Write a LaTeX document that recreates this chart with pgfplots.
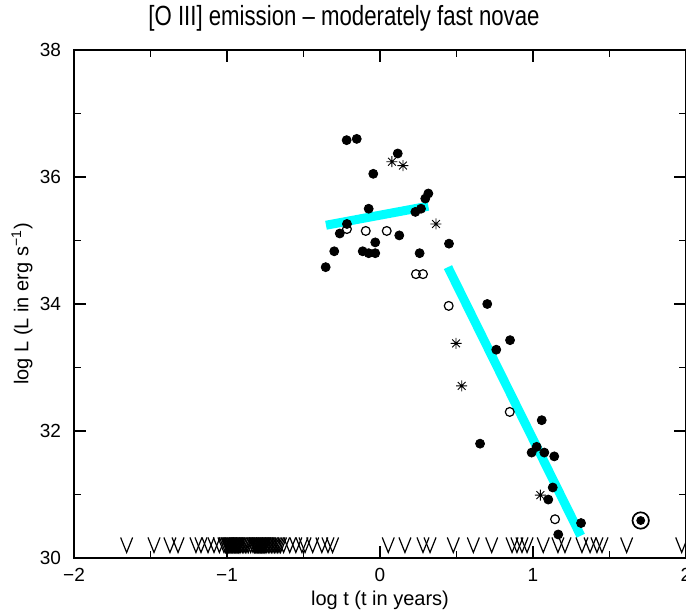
\documentclass[border=0pt]{standalone}
\usepackage{pgfplots}
\pgfplotsset{compat=1.18}
\usepackage{fontspec}
\setmainfont{Liberation Sans}
\definecolor{aqua}{RGB}{0,255,255}

\pgfdeclareplotmark{Vmark}{%
  \pgfpathmoveto{\pgfqpoint{-3pt}{3.75pt}}%
  \pgfpathlineto{\pgfqpoint{0pt}{-3.75pt}}%
  \pgfpathlineto{\pgfqpoint{3pt}{3.75pt}}%
  \pgfusepathqstroke}
\pgfdeclareplotmark{star8}{%
  \pgfpathmoveto{\pgfqpoint{-2.75pt}{0pt}}\pgfpathlineto{\pgfqpoint{2.75pt}{0pt}}%
  \pgfpathmoveto{\pgfqpoint{0pt}{-2.75pt}}\pgfpathlineto{\pgfqpoint{0pt}{2.75pt}}%
  \pgfpathmoveto{\pgfqpoint{-1.95pt}{-1.95pt}}\pgfpathlineto{\pgfqpoint{1.95pt}{1.95pt}}%
  \pgfpathmoveto{\pgfqpoint{-1.95pt}{1.95pt}}\pgfpathlineto{\pgfqpoint{1.95pt}{-1.95pt}}%
  \pgfusepathqstroke
  \pgfpathcircle{\pgfpointorigin}{0.6pt}\pgfusepathqfill}

\pgfplotstableread{
x y
-0.218 36.58
-0.152 36.60
0.116 36.37
-0.044 36.05
0.316 35.74
0.296 35.66
-0.074 35.50
0.268 35.50
0.231 35.45
-0.216 35.26
-0.263 35.11
0.126 35.08
-0.031 34.97
-0.299 34.83
-0.113 34.83
-0.074 34.80
-0.031 34.80
0.451 34.95
0.259 34.80
-0.355 34.58
0.701 34.00
0.850 33.43
0.760 33.28
1.057 32.17
0.654 31.80
1.024 31.75
0.991 31.66
1.074 31.66
1.139 31.60
1.129 31.11
1.100 30.92
1.314 30.55
1.165 30.37
}\filled

\pgfplotstableread{
x y
-0.216 35.18
-0.093 35.15
0.044 35.15
0.235 34.47
0.281 34.47
0.449 33.97
0.848 32.30
1.144 30.61
}\opened

\pgfplotstableread{
x y
0.078 36.24
0.150 36.18
0.366 35.26
0.497 33.38
0.534 32.71
1.048 30.99
}\stars

\pgfplotstableread{
x y
-1.656 30.205
-1.477 30.205
-1.373 30.205
-1.320 30.205
-1.203 30.205
-1.170 30.205
-1.124 30.205
-1.085 30.205
-1.050 30.205
-1.020 30.205
-1.010 30.205
-1.000 30.205
-0.995 30.205
-0.990 30.205
-0.985 30.205
-0.980 30.205
-0.975 30.205
-0.970 30.205
-0.965 30.205
-0.960 30.205
-0.955 30.205
-0.950 30.205
-0.945 30.205
-0.940 30.205
-0.935 30.205
-0.930 30.205
-0.925 30.205
-0.920 30.205
-0.910 30.205
-0.900 30.205
-0.890 30.205
-0.880 30.205
-0.870 30.205
-0.860 30.205
-0.845 30.205
-0.830 30.205
-0.820 30.205
-0.815 30.205
-0.810 30.205
-0.805 30.205
-0.800 30.205
-0.795 30.205
-0.790 30.205
-0.785 30.205
-0.780 30.205
-0.775 30.205
-0.770 30.205
-0.765 30.205
-0.760 30.205
-0.755 30.205
-0.750 30.205
-0.740 30.205
-0.730 30.205
-0.720 30.205
-0.710 30.205
-0.700 30.205
-0.690 30.205
-0.680 30.205
-0.670 30.205
-0.660 30.205
-0.650 30.205
-0.630 30.205
-0.590 30.205
-0.550 30.205
-0.510 30.205
-0.490 30.205
-0.440 30.205
-0.380 30.205
-0.340 30.205
-0.310 30.205
0.054 30.205
0.163 30.205
0.281 30.205
0.327 30.205
0.479 30.205
0.610 30.205
0.730 30.205
0.863 30.205
0.895 30.205
0.928 30.205
0.961 30.205
1.067 30.205
1.163 30.205
1.209 30.205
1.320 30.205
1.373 30.205
1.418 30.205
1.451 30.205
1.612 30.205
1.972 30.205
}\limits

\begin{document}
\begin{tikzpicture}
\begin{axis}[
  scale only axis, width=306pt, height=254pt,
  xmin=-2, xmax=2, ymin=30, ymax=38,
  xtick={-2,-1,0,1,2}, xticklabels={−2,−1,0,1,2},
  minor xtick={-1.5,-0.5,0.5,1.5},
  ytick={30,32,34,36,38}, yticklabels={30,32,34,36,38},
  minor ytick={31,33,35,37},
  major tick length=6pt, minor tick length=3.5pt,
  tick style={black, line width=0.6pt},
  axis line style={line width=0.75pt},
  ticklabel style={font=\fontsize{9.5}{11}\selectfont},
  xticklabel style={yshift=-1.5pt},
  yticklabel style={xshift=-3pt},
  xlabel={log t (t in years)},
  ylabel={log L (L in erg s\textsuperscript{−1})},
  label style={font=\fontsize{10}{12}\selectfont},
  xlabel style={at={(axis description cs:0.5,0)}, anchor=center, yshift=-21pt},
  ylabel style={at={(axis description cs:-0.085,0.5)}, anchor=center},
  clip=false,
]
\addplot[aqua, line width=4.5pt] coordinates {(-0.353,35.24) (0.316,35.54)};
\addplot[aqua, line width=4.5pt] coordinates {(0.444,34.58) (1.312,30.35)};
\addplot[only marks, mark=*, mark size=2.25pt, black] table {\filled};
\addplot[only marks, mark=o, mark size=2.2pt, black, line width=0.6pt, mark options={fill=white}] table {\opened};
\addplot[only marks, mark=star8, black, line width=0.45pt] table {\stars};
\addplot[only marks, mark=Vmark, black, line width=0.6pt] table {\limits};
\addplot[only marks, mark=o, mark size=4.1pt, black, line width=0.85pt] coordinates {(1.704,30.59)};
\addplot[only marks, mark=*, mark size=2pt, black] coordinates {(1.704,30.59)};
\end{axis}
\node[font=\fontsize{11.1}{13}\selectfont, yscale=1.25] at ([xshift=-18pt,yshift=16pt]current axis.north) {[O III] emission – moderately fast novae};
\pgfresetboundingbox
\path[use as bounding box] ([xshift=-37pt,yshift=-28.5pt]current axis.south west) rectangle ([yshift=25pt]current axis.north east);
\end{tikzpicture}
\end{document}
